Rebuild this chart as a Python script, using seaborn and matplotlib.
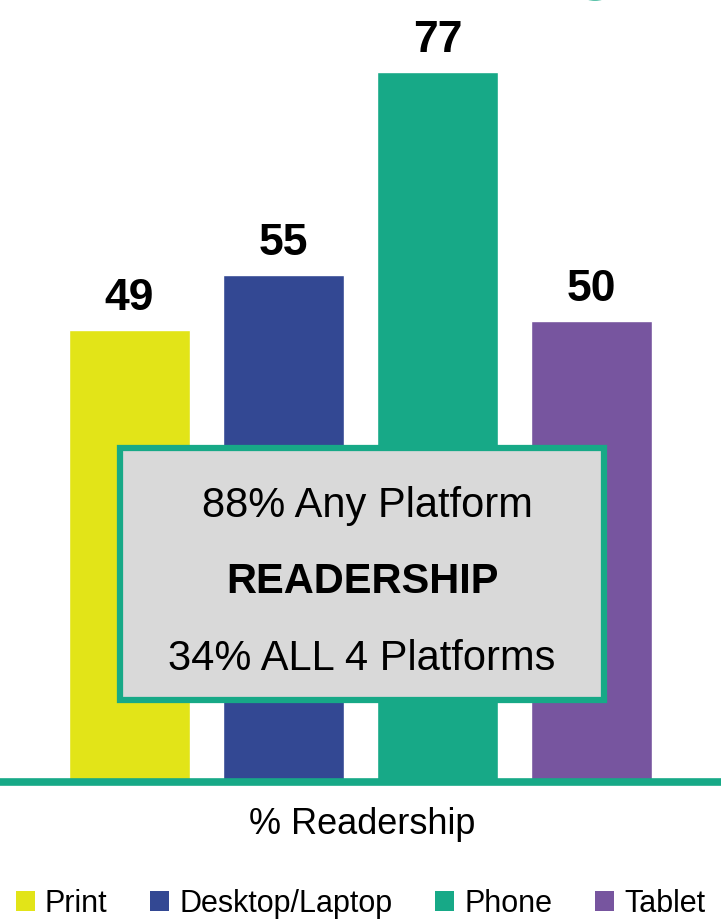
import matplotlib
matplotlib.use("Agg")
import matplotlib.pyplot as plt
from matplotlib.patches import Patch, Ellipse, Rectangle
import pandas as pd
import seaborn as sns

# Data
platforms = ["Print", "Desktop/Laptop", "Phone", "Tablet"]
readership = [49, 55, 77, 50]
colors = ["#E2E418", "#334893", "#17A987", "#77559F"]
box_lines = ["88% Any Platform", "READERSHIP", "34% ALL 4 Platforms"]
axis_label = "% Readership"

teal = "#17A987"

sns.set_theme(style="white")
plt.rcParams["font.family"] = ["Liberation Sans", "DejaVu Sans"]
plt.rcParams["text.color"] = "black"

df = pd.DataFrame({"platform": platforms, "value": readership})

W, H = 721, 923
fig = plt.figure(figsize=(W / 100, H / 100), dpi=100)
ax = fig.add_axes([0, 1 - 782 / H, 1, 782 / H])

sns.barplot(data=df, x="platform", y="value", hue="platform", palette=colors,
            width=0.786, legend=False, ax=ax, saturation=1)
ax.set_xlim(-0.84, 3.84)
ax.set_ylim(0, 84.8)
ax.axis("off")

for cont in ax.containers:
    ax.bar_label(cont, padding=8, fontsize=32, fontweight="bold", color="black")

# baseline
ax.axhline(0, color=teal, lw=5.5, clip_on=False)

# summary box
box = Rectangle((120 / W, 1 - 700 / H), 484 / W, 252 / H,
                transform=fig.transFigure, facecolor="#D9D9D9",
                edgecolor=teal, linewidth=4.5, zorder=5)
fig.patches.append(box)
fig.text(367 / W, 1 - 517 / H, box_lines[0], ha="center", va="baseline",
         fontsize=30, zorder=6)
fig.text(362 / W, 1 - 593 / H, box_lines[1], ha="center", va="baseline",
         fontsize=30, fontweight="bold", zorder=6)
fig.text(362 / W, 1 - 670 / H, box_lines[2], ha="center", va="baseline",
         fontsize=30, zorder=6)

# edge of a logo peeking in at the top
fig.patches.append(Ellipse((595 / W, 1 + 16 / H), 40 / W, 34 / H,
                           transform=fig.transFigure, facecolor=teal,
                           edgecolor="none", alpha=0.7))

fig.text(362 / W, 1 - 834 / H, axis_label, ha="center", va="baseline",
         fontsize=26)

handles = [Patch(facecolor=c, edgecolor="none") for c in colors]
fig.legend(handles, platforms, loc="center", bbox_to_anchor=(0.5, 1 - 904 / H),
           ncol=4, frameon=False, handlelength=0.62, handleheight=0.62,
           handletextpad=0.33, columnspacing=1.4, borderpad=0, borderaxespad=0,
           labelcolor="black", prop={"size": 22})

fig.savefig("out.png", dpi=100)
